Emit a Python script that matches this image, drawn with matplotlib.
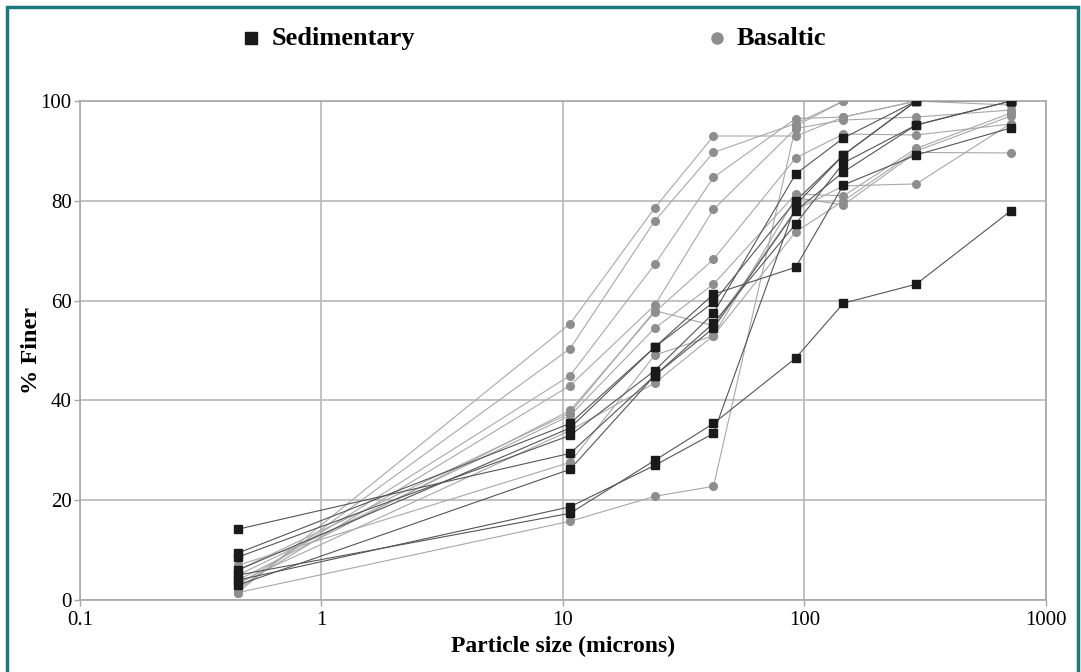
import numpy as np
import matplotlib
matplotlib.use("Agg")
import matplotlib.pyplot as plt
from matplotlib.patches import Rectangle

# tailles de particules (microns), communes à toutes les courbes
sizes = [0.45, 10.7, 24, 42, 92, 145, 290, 715]

# courbes granulométriques, % passant
sed_curves = [
    [5.0, 17.4, 28.0, 35.4, 48.5, 59.5, 63.3, 78.0],
    [4.0, 18.7, 27.0, 33.4, 79.2, 89.2, 100, 100],
    [14.2, 29.4, 45.0, 55.5, 75.4, 87.6, 95.2, 100],
    [9.4, 35.4, 50.7, 61.3, 66.7, 83.2, 89.2, 94.6],
    [8.6, 33.0, 46.0, 57.5, 85.4, 92.6, 100, 100],
    [3.0, 26.2, 45.0, 54.5, 78.0, 85.8, 95.2, 100],
    [6.0, 34.5, 50.7, 59.7, 80.0, 89.2, 100, 100],
]
bas_curves = [
    [1.5, 55.4, 78.6, 93.0, 93.0, 96.8, 100, 100],
    [2.0, 50.4, 76.0, 89.7, 95.5, 100, 100, 100],
    [3.0, 45.0, 67.3, 84.7, 96.5, 96.8, 100, 99.2],
    [2.5, 43.0, 59.1, 78.3, 94.5, 96.2, 96.8, 98.2],
    [4.0, 38.0, 57.7, 68.3, 88.6, 93.4, 93.2, 95.4],
    [5.0, 37.0, 54.5, 63.3, 81.4, 81.0, 90.5, 97.6],
    [7.0, 27.6, 49.1, 53.0, 80.6, 79.2, 89.7, 89.6],
    [1.5, 15.8, 20.8, 22.8, 95.0, 100, 100, 100],
    [3.5, 34.0, 43.5, 53.0, 73.8, 80.0, 90.0, 97.0],
    [6.0, 37.5, 58.0, 55.0, 78.2, 83.0, 83.4, 95.5],
]
legend_labels = ["Sedimentary", "Basaltic"]
x_ticks = [0.1, 1, 10, 100, 1000]
x_ticklabels = ["0.1", "1", "10", "100", "1000"]
y_ticks = [0, 20, 40, 60, 80, 100]

plt.rcParams['font.family'] = ['Liberation Serif', 'DejaVu Serif']

fig = plt.figure(figsize=(10.81, 6.72), dpi=100)
ax = fig.add_axes([0.074, 0.107, 0.8936, 0.7426])

sed_col = '#1a1a1a'
bas_col = '#8e8e8e'

for c in bas_curves:
    ax.plot(sizes, c, color='#a8a8a8', lw=0.8, zorder=2)
for c in sed_curves:
    ax.plot(sizes, c, color='#555555', lw=0.8, zorder=2)
for c in bas_curves:
    ax.plot(sizes, c, ls='none', marker='o', ms=5.5, color=bas_col, zorder=3)
for c in sed_curves:
    ax.plot(sizes, c, ls='none', marker='s', ms=5.5, color=sed_col, zorder=4)

ax.set_xscale('log')
ax.set_xlim(0.1, 1000)
ax.set_ylim(0, 100)
ax.set_xticks(x_ticks)
ax.set_xticklabels(x_ticklabels)
ax.set_yticks(y_ticks)
ax.minorticks_off()
ax.grid(True, color='#b8b8b8', lw=1.2, zorder=0)
ax.set_axisbelow(True)
for s in ax.spines.values():
    s.set_color('#a8a8a8')
    s.set_linewidth(1.2)
ax.tick_params(length=4, width=1, color='#a8a8a8', labelsize=15, pad=4)
ax.tick_params(axis='y', pad=2)

ax.set_xlabel("Particle size (microns)", fontsize=17, fontweight='bold', labelpad=4)
ax.set_ylabel("% Finer", fontsize=17.5, fontweight='bold')
ax.yaxis.set_label_coords(-0.039, 0.5)

# légende faite à la main en haut
ax.plot([0.232], [0.943], marker='s', ms=8, color=sed_col, ls='none',
        transform=fig.transFigure, clip_on=False)
fig.text(0.251, 0.943, legend_labels[0], fontsize=19, fontweight='bold', va='center')
ax.plot([0.663], [0.943], marker='o', ms=8, color=bas_col, ls='none',
        transform=fig.transFigure, clip_on=False)
fig.text(0.681, 0.943, legend_labels[1], fontsize=19, fontweight='bold', va='center')

# cadre bleu-vert autour de la figure
fig.patches.append(Rectangle((7 / 1081, -0.05), (1078 - 7) / 1081, 1.05 - 7 / 672,
                             transform=fig.transFigure, fill=False,
                             edgecolor='#1c7a7f', lw=2.5))

fig.savefig("out.png", dpi=100)
